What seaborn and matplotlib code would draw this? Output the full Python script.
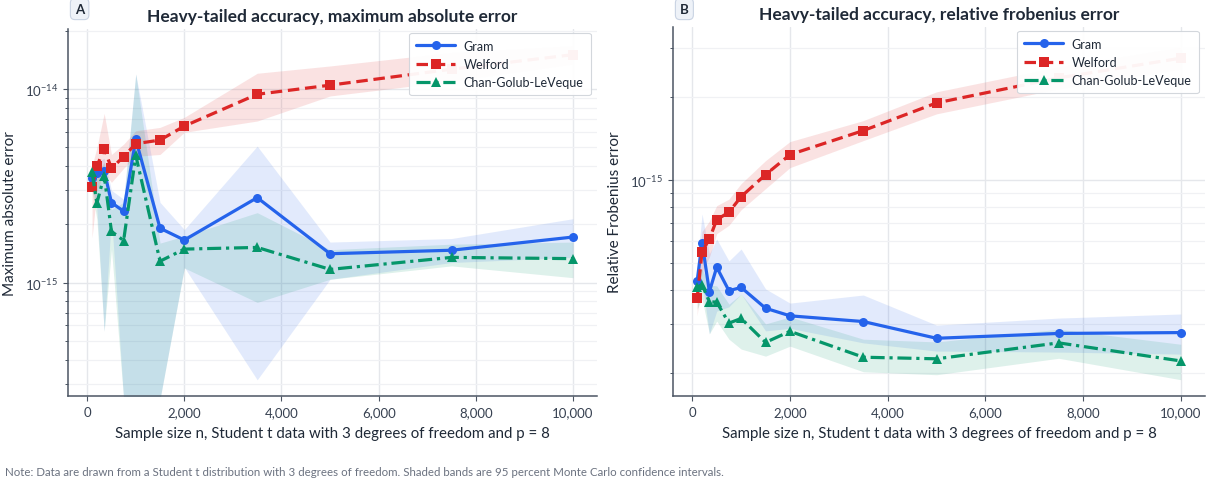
import numpy as np
import pandas as pd
import matplotlib
matplotlib.use("Agg")
import matplotlib.pyplot as plt
import matplotlib.ticker as mticker
import seaborn as sns

# ---------------- data ----------------
n_values = [100, 200, 350, 500, 750, 1000, 1500, 2000, 3500, 5000, 7500, 10000]
methods = ["Gram", "Welford", "Chan-Golub-LeVeque"]

# Panel A: maximum absolute error
gram_abs = [3.49e-15, 3.70e-15, 3.80e-15, 2.59e-15, 2.34e-15, 5.51e-15, 1.91e-15, 1.66e-15, 2.75e-15, 1.41e-15, 1.47e-15, 1.72e-15]
gram_abs_lo = [3.20e-15, 2.40e-15, 5.6e-16, 2.20e-15, 2.5e-16, 2.5e-16, 2.5e-16, 1.20e-15, 3.14e-16, 1.04e-15, 1.27e-15, 1.35e-15]
gram_abs_hi = [3.80e-15, 4.20e-15, 4.40e-15, 3.00e-15, 2.70e-15, 1.20e-14, 2.60e-15, 1.88e-15, 5.08e-15, 1.62e-15, 1.69e-15, 2.14e-15]

welford_abs = [3.13e-15, 4.00e-15, 4.93e-15, 3.90e-15, 4.48e-15, 5.23e-15, 5.46e-15, 6.45e-15, 9.42e-15, 1.05e-14, 1.27e-14, 1.51e-14]
welford_abs_lo = [1.70e-15, 3.00e-15, 3.70e-15, 3.30e-15, 3.90e-15, 4.50e-15, 4.60e-15, 5.99e-15, 6.85e-15, 9.23e-15, 1.10e-14, 1.35e-14]
welford_abs_hi = [4.00e-15, 5.00e-15, 7.50e-15, 4.60e-15, 5.20e-15, 6.10e-15, 6.35e-15, 7.16e-15, 1.21e-14, 1.32e-14, 1.55e-14, 1.68e-14]

cgl_abs = [3.72e-15, 2.58e-15, 3.58e-15, 1.84e-15, 1.65e-15, 4.55e-15, 1.29e-15, 1.49e-15, 1.52e-15, 1.17e-15, 1.35e-15, 1.33e-15]
cgl_abs_lo = [3.00e-15, 2.12e-15, 5.6e-16, 1.49e-15, 2.5e-16, 2.5e-16, 2.5e-16, 1.19e-15, 7.90e-16, 1.04e-15, 1.22e-15, 1.06e-15]
cgl_abs_hi = [4.00e-15, 3.60e-15, 4.20e-15, 2.39e-15, 2.60e-15, 1.20e-14, 1.60e-15, 1.74e-15, 2.30e-15, 1.48e-15, 1.58e-15, 1.62e-15]

# Panel B: relative Frobenius error
gram_rel = [4.31e-16, 5.93e-16, 3.94e-16, 4.83e-16, 3.97e-16, 4.08e-16, 3.43e-16, 3.22e-16, 3.07e-16, 2.67e-16, 2.78e-16, 2.80e-16]
gram_rel_lo = [3.71e-16, 4.30e-16, 2.77e-16, 3.35e-16, 3.47e-16, 3.86e-16, 2.84e-16, 2.90e-16, 2.57e-16, 2.40e-16, 2.38e-16, 2.34e-16]
gram_rel_hi = [4.97e-16, 7.53e-16, 5.40e-16, 6.11e-16, 5.09e-16, 5.62e-16, 4.03e-16, 3.58e-16, 3.83e-16, 2.98e-16, 3.16e-16, 3.27e-16]

welford_rel = [3.74e-16, 5.50e-16, 6.11e-16, 7.18e-16, 7.64e-16, 8.70e-16, 1.045e-15, 1.235e-15, 1.509e-15, 1.901e-15, 2.342e-15, 2.761e-15]
welford_rel_lo = [3.22e-16, 4.65e-16, 5.26e-16, 6.39e-16, 6.85e-16, 7.80e-16, 9.30e-16, 1.108e-15, 1.388e-15, 1.735e-15, 2.137e-15, 2.519e-15]
welford_rel_hi = [4.35e-16, 6.50e-16, 7.10e-16, 8.07e-16, 8.52e-16, 9.70e-16, 1.175e-15, 1.377e-15, 1.640e-15, 2.085e-15, 2.567e-15, 3.026e-15]

cgl_rel = [4.09e-16, 4.17e-16, 3.62e-16, 3.61e-16, 3.03e-16, 3.15e-16, 2.58e-16, 2.83e-16, 2.28e-16, 2.25e-16, 2.57e-16, 2.21e-16]
cgl_rel_lo = [3.41e-16, 3.71e-16, 2.77e-16, 3.08e-16, 2.65e-16, 2.44e-16, 2.30e-16, 2.50e-16, 2.02e-16, 1.97e-16, 2.26e-16, 1.89e-16]
cgl_rel_hi = [4.64e-16, 4.76e-16, 4.17e-16, 4.13e-16, 3.55e-16, 3.86e-16, 3.01e-16, 3.19e-16, 2.65e-16, 2.59e-16, 2.88e-16, 2.54e-16]

titles = ["Heavy-tailed accuracy, maximum absolute error",
          "Heavy-tailed accuracy, relative frobenius error"]
ylabels = ["Maximum absolute error", "Relative Frobenius error"]
xlabel = "Sample size n, Student t data with 3 degrees of freedom and p = 8"
panel_letters = ["A", "B"]
ytick_values = [[1e-15, 1e-14], [1e-15]]
note = ("Note: Data are drawn from a Student t distribution with 3 degrees of freedom. "
        "Shaded bands are 95 percent Monte Carlo confidence intervals.")

# ---------------- style ----------------
sns.set_theme(style="whitegrid")
plt.rcParams["font.family"] = ["Lato", "DejaVu Sans"]
plt.rcParams["mathtext.fontset"] = "dejavusans"

colors = {"Gram": "#2563eb", "Welford": "#dc2626", "Chan-Golub-LeVeque": "#05966a"}
markers = {"Gram": "o", "Welford": "s", "Chan-Golub-LeVeque": "^"}
dashes = {"Gram": "", "Welford": (3.6, 1.8), "Chan-Golub-LeVeque": (4.4, 1.5, 1.0, 1.5)}

text_dark = "#1f2937"
spine_col = "#4b5563"

fig = plt.figure(figsize=(12.07, 4.85), dpi=100)
axA = fig.add_axes([68 / 1207, 1 - 397 / 485, 529 / 1207, 367 / 485])
axB = fig.add_axes([673 / 1207, 1 - 397 / 485, 532 / 1207, 369 / 485])

panels = [
    (axA, [(gram_abs, gram_abs_lo, gram_abs_hi), (welford_abs, welford_abs_lo, welford_abs_hi),
           (cgl_abs, cgl_abs_lo, cgl_abs_hi)], (2.59e-16, 2.05e-14)),
    (axB, [(gram_rel, gram_rel_lo, gram_rel_hi), (welford_rel, welford_rel_lo, welford_rel_hi),
           (cgl_rel, cgl_rel_lo, cgl_rel_hi)], (1.65e-16, 3.58e-15)),
]

for i, (ax, series, ylim) in enumerate(panels):
    ax.set_yscale("log")
    rows = []
    for m, (vals, lo, hi) in zip(methods, series):
        for n, v in zip(n_values, vals):
            rows.append({"n": n, "value": v, "Method": m})
        ax.fill_between(n_values, lo, hi, color=colors[m], alpha=0.13, linewidth=0, zorder=1)
    df = pd.DataFrame(rows)
    sns.lineplot(data=df, x="n", y="value", hue="Method", style="Method",
                 hue_order=methods, style_order=methods, palette=colors,
                 markers=markers, dashes=dashes, estimator=None, sort=True,
                 linewidth=2.3, markersize=6.5, markeredgewidth=0, ax=ax, zorder=3)
    ax.set_ylim(*ylim)
    ax.set_xlim(-395, 10495)
    ax.xaxis.set_major_locator(mticker.MultipleLocator(2000))
    ax.xaxis.set_major_formatter(mticker.FuncFormatter(lambda x, p: f"{int(x):,}"))
    ax.yaxis.set_major_locator(mticker.FixedLocator(ytick_values[i]))
    ax.yaxis.set_major_formatter(mticker.LogFormatterSciNotation(base=10))
    ax.yaxis.set_minor_locator(mticker.LogLocator(base=10, subs=np.arange(2, 10)))
    ax.yaxis.set_minor_formatter(mticker.NullFormatter())

    ax.grid(True, which="major", color="#e5e7eb", linewidth=1.0)
    ax.grid(True, which="minor", axis="y", color="#f0f1f4", linewidth=0.9)
    ax.set_axisbelow(True)
    for s in ["top", "right"]:
        ax.spines[s].set_visible(False)
    for s in ["left", "bottom"]:
        ax.spines[s].set_color(spine_col)
        ax.spines[s].set_linewidth(1.1)
    ax.tick_params(axis="both", which="major", labelsize=9.5, colors=spine_col,
                   labelcolor="#374151", length=3.5, width=0.8, left=True, bottom=True)
    ax.tick_params(axis="y", which="minor", length=2.5, width=0.7, colors=spine_col, left=True)

    ax.set_xlabel(xlabel, fontsize=10.8, color=text_dark, labelpad=6)
    ax.set_ylabel(ylabels[i], fontsize=11, color=text_dark, labelpad=6)
    ax.set_title(titles[i], fontsize=12.5, fontweight="bold", color=text_dark, pad=6)

    handles, labels = ax.get_legend_handles_labels()
    leg = ax.legend(handles, labels, loc="upper right", bbox_to_anchor=(0.995, 1.0),
                    borderaxespad=0.3, fontsize=9, frameon=True, fancybox=True,
                    handlelength=3.1, borderpad=0.55, labelspacing=0.5, handletextpad=0.7)
    leg.get_frame().set_edgecolor("#d1d5db")
    leg.get_frame().set_linewidth(0.8)
    leg.get_frame().set_facecolor("white")
    leg.get_frame().set_alpha(0.95)
    for t in leg.get_texts():
        t.set_color(text_dark)

    # panel letter badge
    bx = ax.get_position().x0 + 7 / 1207
    fig.text(bx, 1 - 10 / 485, panel_letters[i], fontsize=9.5, fontweight="bold",
             color=text_dark, ha="left", va="center",
             bbox=dict(boxstyle="round,pad=0.35", facecolor="#eef2f8",
                       edgecolor="#c9d3e3", linewidth=0.8))

fig.text(5 / 1207, 1 - 473 / 485, note, fontsize=8.3, color="#6b7280", ha="left", va="center")

fig.savefig("out.png", dpi=100, facecolor="white")
